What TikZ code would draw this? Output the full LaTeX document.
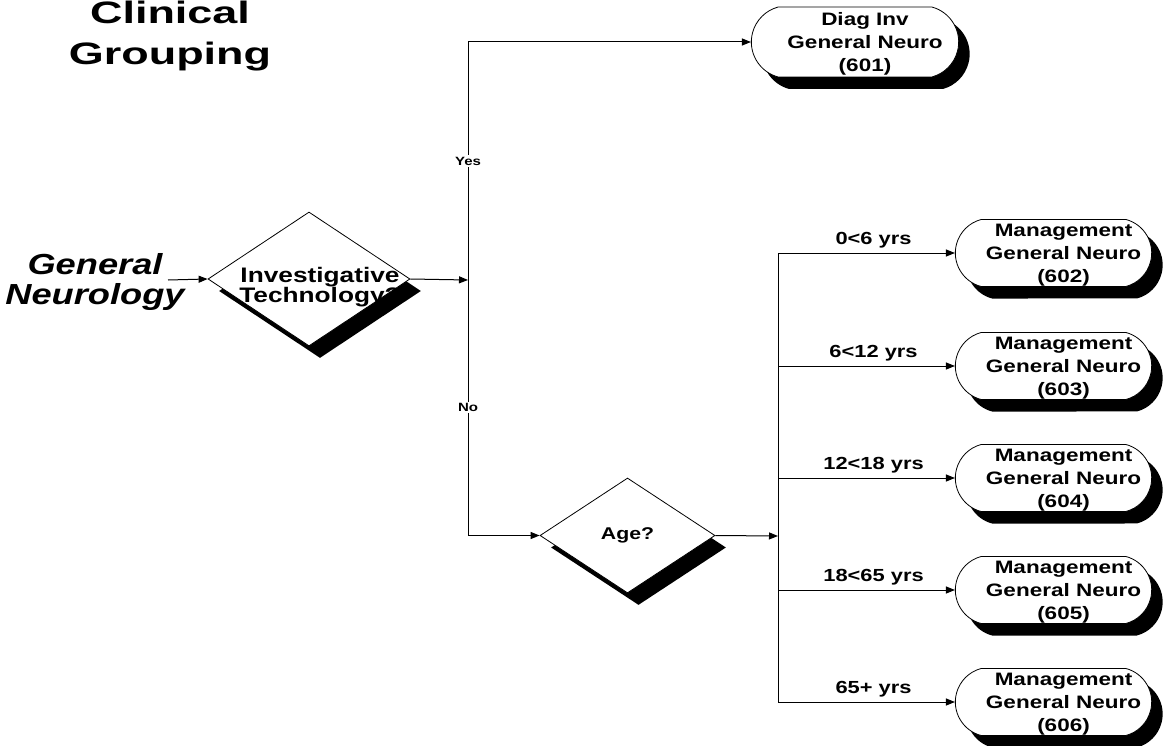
\documentclass[tikz,border=0pt]{standalone}
\usepackage{fontspec}
\setmainfont{Liberation Sans}[FakeStretch=1.25]
\newfontfamily\widefont{Liberation Sans}[FakeStretch=1.45]
\usetikzlibrary{shapes.geometric,shapes.misc,shadows,arrows.meta}

\begin{document}
\begin{tikzpicture}[x=1pt, y=-1pt,
    blackshadow/.style={drop shadow={fill=black, opacity=1,
                        shadow xshift=11pt, shadow yshift=-12pt}},
    decision/.style={diamond, draw, line width=0.8pt, fill=white,
                     inner sep=0pt, blackshadow},
    term/.style={rounded rectangle, rounded rectangle arc length=150,
                 draw, line width=0.8pt, fill=white,
                 minimum width=203pt, minimum height=67pt, blackshadow},
    termtext/.style={font=\bfseries\fontsize{18}{23}\selectfont,
                     align=center, xshift=10pt, yshift=-2pt},
    flow/.style={line width=1pt, -{Triangle[length=9pt, width=7pt]}},
    bus/.style={line width=1pt},
    agelbl/.style={font=\bfseries\fontsize{17.5}{20}\selectfont,
                   above=3pt, inner sep=1pt, pos=0.54},
    answer/.style={font=\bfseries\fontsize{12}{13}\selectfont,
                   fill=white, inner sep=1.5pt},
]
\useasboundingbox (0,0) rectangle (1164,746);

\node[font=\widefont\bfseries\fontsize{31}{41}\selectfont, align=center,
      inner sep=0pt] (title) at (170,36) {Clinical\\Grouping};
\node[font=\bfseries\itshape\fontsize{29}{30}\selectfont, align=center,
      inner sep=0pt] (field) at (95,282) {General\\Neurology};

\node[decision, minimum width=202pt, minimum height=134pt,
      label={[font=\bfseries\fontsize{21}{20}\selectfont, align=center,
              xshift=11pt, yshift=-8pt]center:Investigative\\Technology?}]
      (inv) at (309,279) {};
\node[decision, minimum width=175pt, minimum height=115pt,
      label={[font=\bfseries\fontsize{17}{20}\selectfont]center:Age?}]
      (age) at (627.5,535.5) {};

\node[term, minimum width=214pt, minimum height=70pt,
      label={[termtext]center:Diag Inv\\General Neuro\\(601)}] (t601) at (855,42) {};
\node[term, label={[termtext]center:Management\\General Neuro\\(602)}] (t602) at (1053.5,253) {};
\node[term, label={[termtext]center:Management\\General Neuro\\(603)}] (t603) at (1053.5,366) {};
\node[term, label={[termtext]center:Management\\General Neuro\\(604)}] (t604) at (1053.5,478) {};
\node[term, label={[termtext]center:Management\\General Neuro\\(605)}] (t605) at (1053.5,590) {};
\node[term, label={[termtext]center:Management\\General Neuro\\(606)}] (t606) at (1053.5,702) {};

\coordinate (entry) at (168,280);
\coordinate (split) at (468,280);
\coordinate (bus) at (778,536);

\draw[flow] (entry) -- (inv.west);
\draw[flow] (inv.east) -- (split);
\draw[flow] (split) |- (t601.west) node[answer, pos=0.25] {Yes};
\draw[flow] (split) |- (age.west) node[answer, pos=0.25] {No};

\draw[flow] (age.east) -- (bus);
\draw[bus] (bus |- t602.west) -- (bus |- t606.west);
\draw[flow] (bus |- t602.west) -- (t602.west) node[agelbl] {0<6 yrs};
\draw[flow] (bus |- t603.west) -- (t603.west) node[agelbl] {6<12 yrs};
\draw[flow] (bus |- t604.west) -- (t604.west) node[agelbl] {12<18 yrs};
\draw[flow] (bus |- t605.west) -- (t605.west) node[agelbl] {18<65 yrs};
\draw[flow] (bus |- t606.west) -- (t606.west) node[agelbl] {65+ yrs};
\end{tikzpicture}
\end{document}
